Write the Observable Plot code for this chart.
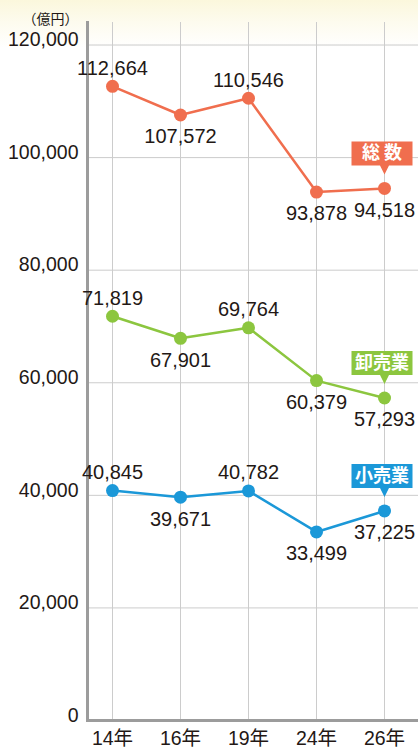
<!DOCTYPE html>
<html><head><meta charset="utf-8">
<script src="https://cdn.jsdelivr.net/npm/d3@7"></script>
<script src="https://cdn.jsdelivr.net/npm/@observablehq/plot@0.6"></script>
<style>
html,body{margin:0;padding:0;}
body{width:418px;height:753px;overflow:hidden;background:linear-gradient(to bottom,#fbf7dc 0px,#fdfbee 22px,#ffffff 48px);}
#chart svg{display:block;}
</style></head><body><div id="chart"></div>
<script>
const years = ["14年","16年","19年","24年","26年"];
const total = [112664,107572,110546,93878,94518];
const wholesale = [71819,67901,69764,60379,57293];
const retail = [40845,39671,40782,33499,37225];
const seriesNames = ["総 数","卸売業","小売業"];
const seriesColors = ["#f06e4e","#8cc63f","#1b98d8"];
const labelAbove = [true,false,true,false,false];
const yTicks = [0,20000,40000,60000,80000,100000,120000];
const yUnit = "（億円）";

const seriesValues = [total, wholesale, retail];
const rows = [];
seriesNames.forEach((s, si) => {
  years.forEach((yr, i) => {
    rows.push({series: s, year: yr, value: seriesValues[si][i], above: labelAbove[i], last: i === years.length - 1});
  });
});
const lastRows = rows.filter(d => d.last);
const fmt = d3.format(",");

// callout box with pointer, drawn relative to the point
const callout = {
  draw(ctx, size) {
    const l = -33, r = 28, t = -47, b = -23, tip = -14, w = 4.5;
    ctx.moveTo(l, t);
    ctx.lineTo(r, t);
    ctx.lineTo(r, b);
    ctx.lineTo(w, b);
    ctx.lineTo(0, tip);
    ctx.lineTo(-w, b);
    ctx.lineTo(l, b);
    ctx.closePath();
  }
};

const textColor = "#231815";
const numFont = "'Liberation Sans', Arial, 'Noto Sans CJK JP', sans-serif";
const cjkFont = "'Noto Sans CJK JP', sans-serif";

const chart = Plot.plot({
  width: 418,
  height: 753,
  marginLeft: 87,
  marginRight: 0,
  marginTop: 22,
  marginBottom: 33,
  style: {background: "transparent", color: textColor, fontFamily: numFont},
  x: {type: "point", domain: years, padding: 0, insetLeft: 24, insetRight: 33},
  y: {domain: [0, 124000]},
  color: {domain: seriesNames, range: seriesColors},
  marks: [
    Plot.ruleY(yTicks, {stroke: "#cccccc", strokeWidth: 1}),
    Plot.ruleX(years, {stroke: "#cccccc", strokeWidth: 1}),
    Plot.frame({anchor: "left", stroke: "#9c9c9c", strokeWidth: 3}),
    Plot.frame({anchor: "bottom", stroke: "#9c9c9c", strokeWidth: 3}),
    Plot.axisY(yTicks, {tickSize: 0, tickPadding: 9, fontSize: 19.5, dy: -5, tickFormat: fmt, label: null, fill: textColor}),
    Plot.axisX({tickSize: 0, tickPadding: 11, fontSize: 19.5, label: null, fill: textColor}),
    Plot.text([yUnit], {frameAnchor: "top-left", textAnchor: "middle", text: d => d, dx: -37, dy: -8, fontSize: 14, fill: textColor, fontFamily: cjkFont}),
    Plot.line(rows, {x: "year", y: "value", z: "series", stroke: "series", strokeWidth: 2.5}),
    Plot.dot(rows, {x: "year", y: "value", fill: "series", r: 6.5}),
    Plot.text(rows.filter(d => d.above), {x: "year", y: "value", text: d => fmt(d.value), dy: -18, fontSize: 20, fill: textColor}),
    Plot.text(rows.filter(d => !d.above), {x: "year", y: "value", text: d => fmt(d.value), dy: 22, fontSize: 20, fill: textColor}),
    Plot.dot(lastRows, {x: "year", y: "value", fill: "series", symbol: callout, r: 5, stroke: null}),
    Plot.text(lastRows, {x: "year", y: "value", text: "series", dx: -2.5, dy: -35, fill: "white", fontSize: 18, fontWeight: "bold", fontFamily: cjkFont})
  ]
});
document.getElementById("chart").appendChild(chart);
</script>
</body></html>
